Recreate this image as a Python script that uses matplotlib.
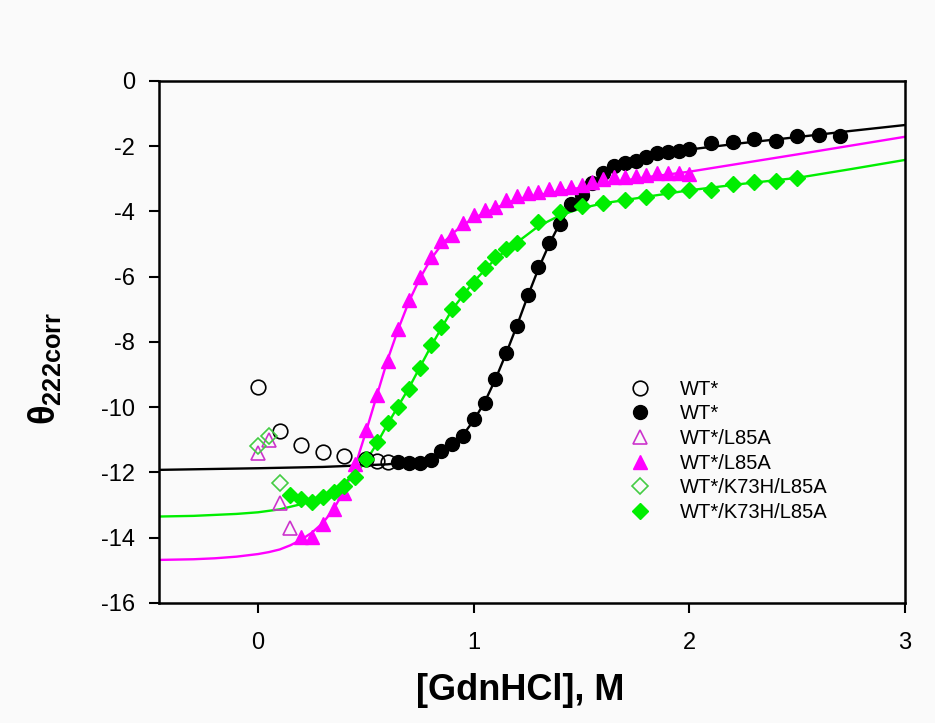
import matplotlib.pyplot as plt

plt.rcParams['font.family'] = ['Liberation Sans', 'DejaVu Sans']
plt.rcParams['axes.unicode_minus'] = False
plt.rcParams['mathtext.fontset'] = 'custom'
plt.rcParams['mathtext.rm'] = 'Liberation Sans'
plt.rcParams['mathtext.bf'] = 'Liberation Sans:bold'
plt.rcParams['mathtext.it'] = 'Liberation Sans:italic'

# WT* - open points (low denaturant)
wt_open_x = [0.0, 0.1, 0.2, 0.3, 0.4, 0.5, 0.55, 0.6]
wt_open_y = [-9.37, -10.73, -11.15, -11.36, -11.49, -11.6, -11.65, -11.68]

# WT* - filled points
wt_x = [0.65, 0.70, 0.75, 0.80, 0.85, 0.90, 0.95, 1.00, 1.05, 1.10, 1.15, 1.20,
        1.25, 1.30, 1.35, 1.40, 1.45, 1.50, 1.55, 1.60, 1.65, 1.70, 1.75, 1.80,
        1.85, 1.90, 1.95, 2.00, 2.10, 2.20, 2.30, 2.40, 2.50, 2.60, 2.70]
wt_y = [-11.67, -11.70, -11.70, -11.62, -11.35, -11.12, -10.88, -10.36, -9.87,
        -9.13, -8.34, -7.51, -6.56, -5.71, -4.97, -4.38, -3.78, -3.50, -3.12,
        -2.81, -2.60, -2.50, -2.44, -2.32, -2.22, -2.17, -2.14, -2.08, -1.91,
        -1.86, -1.78, -1.84, -1.69, -1.65, -1.69]

# WT* fit curve
wt_fit_x = [-0.46, 0.0, 0.3, 0.6, 0.7, 0.8, 0.85, 0.9, 0.95, 1.0, 1.05, 1.1, 1.15,
            1.2, 1.25, 1.3, 1.35, 1.4, 1.45, 1.5, 1.55, 1.6, 1.7, 1.8, 1.9, 2.0,
            2.25, 2.5, 2.75, 3.0]
wt_fit_y = [-11.92, -11.87, -11.83, -11.75, -11.68, -11.55, -11.4, -11.15, -10.85,
            -10.4, -9.85, -9.15, -8.35, -7.5, -6.6, -5.75, -5.0, -4.35, -3.85,
            -3.45, -3.12, -2.88, -2.55, -2.35, -2.2, -2.1, -1.9, -1.72, -1.53, -1.35]

# WT*/L85A
l85a_open_x = [0.0, 0.05, 0.1, 0.15]
l85a_open_y = [-11.4, -11.0, -12.95, -13.7]

l85a_x = [0.20, 0.25, 0.30, 0.35, 0.40, 0.45, 0.50, 0.55, 0.60, 0.65, 0.70, 0.75,
          0.80, 0.85, 0.90, 0.95, 1.00, 1.05, 1.10, 1.15, 1.20, 1.25, 1.30, 1.35,
          1.40, 1.45, 1.50, 1.55, 1.60, 1.65, 1.70, 1.75, 1.80, 1.85, 1.90, 1.95, 2.00]
l85a_y = [-13.98, -13.97, -13.58, -13.13, -12.64, -11.75, -10.7, -9.62, -8.58,
          -7.61, -6.71, -6.02, -5.38, -4.92, -4.72, -4.36, -4.11, -3.95, -3.85,
          -3.65, -3.52, -3.44, -3.39, -3.32, -3.29, -3.24, -3.18, -3.10, -3.0,
          -2.93, -2.93, -2.91, -2.88, -2.83, -2.81, -2.81, -2.86]

l85a_fit_x = [-0.46, -0.3, -0.2, -0.1, 0.0, 0.05, 0.1, 0.15, 0.2, 0.25, 0.3, 0.35,
              0.4, 0.45, 0.5, 0.55, 0.6, 0.65, 0.7, 0.75, 0.8, 0.85, 0.9, 0.95,
              1.0, 1.1, 1.2, 1.4, 1.6, 1.8, 2.0, 2.5, 3.0]
l85a_fit_y = [-14.68, -14.66, -14.63, -14.58, -14.5, -14.44, -14.36, -14.23, -14.06,
              -13.84, -13.55, -13.12, -12.55, -11.8, -10.75, -9.65, -8.55, -7.6,
              -6.75, -6.05, -5.47, -5.02, -4.68, -4.42, -4.2, -3.9, -3.62, -3.38,
              -3.15, -2.95, -2.78, -2.25, -1.71]

# WT*/K73H/L85A
k73h_open_x = [0.0, 0.05, 0.1]
k73h_open_y = [-11.19, -10.88, -12.31]

k73h_x = [0.15, 0.20, 0.25, 0.30, 0.35, 0.40, 0.45, 0.50, 0.55, 0.60, 0.65, 0.70,
          0.75, 0.80, 0.85, 0.90, 0.95, 1.00, 1.05, 1.10, 1.15, 1.20, 1.3, 1.4,
          1.5, 1.6, 1.7, 1.8, 1.9, 2.0, 2.1, 2.2, 2.3, 2.4, 2.5]
k73h_y = [-12.69, -12.82, -12.89, -12.74, -12.59, -12.41, -12.13, -11.59, -11.08,
          -10.49, -9.98, -9.45, -8.81, -8.09, -7.53, -6.99, -6.53, -6.2, -5.74,
          -5.40, -5.16, -4.97, -4.33, -4.02, -3.83, -3.73, -3.65, -3.55, -3.37,
          -3.34, -3.34, -3.16, -3.09, -3.06, -2.98]

k73h_fit_x = [-0.46, -0.3, -0.2, -0.1, 0.0, 0.1, 0.2, 0.3, 0.4, 0.45, 0.5, 0.55,
              0.6, 0.7, 0.8, 0.9, 1.0, 1.1, 1.2, 1.3, 1.4, 1.5, 1.6, 1.8, 2.0,
              2.25, 2.5, 2.75, 3.0]
k73h_fit_y = [-13.35, -13.33, -13.3, -13.27, -13.22, -13.13, -12.97, -12.72, -12.32,
              -12.03, -11.65, -11.12, -10.52, -9.4, -8.15, -7.0, -6.15, -5.45,
              -4.95, -4.45, -4.12, -3.9, -3.75, -3.55, -3.35, -3.15, -2.97, -2.7,
              -2.42]

bg = '#fafafa'
black = '#000000'
magenta = '#ff00ff'
green = '#00ee00'

fig = plt.figure(figsize=(9.35, 7.23), dpi=100, facecolor=bg)
ax = fig.add_axes([0.170, 0.166, 0.798, 0.722], facecolor=bg)

# fitted curves
ax.plot(wt_fit_x, wt_fit_y, color=black, lw=1.7, zorder=2)
ax.plot(l85a_fit_x, l85a_fit_y, color=magenta, lw=1.7, zorder=2)
ax.plot(k73h_fit_x, k73h_fit_y, color=green, lw=1.7, zorder=2)

# data points
ax.plot(wt_open_x, wt_open_y, 'o', ms=10.5, mfc='none', mec=black, mew=1.2,
        label='WT*', zorder=3)
ax.plot(wt_x, wt_y, 'o', ms=10, color=black, label='WT*', zorder=3)
ax.plot(l85a_open_x, l85a_open_y, '^', ms=9.5, mfc='none', mec='#cc33cc', mew=1.2,
        label='WT*/L85A', zorder=3)
ax.plot(l85a_x, l85a_y, '^', ms=10, color=magenta, label='WT*/L85A', zorder=3)
ax.plot(k73h_open_x, k73h_open_y, 'D', ms=8.5, mfc='none', mec='#44cc44', mew=1.2,
        label='WT*/K73H/L85A', zorder=3)
ax.plot(k73h_x, k73h_y, 'D', ms=8.5, color=green, label='WT*/K73H/L85A', zorder=3)

ax.set_xlim(-0.46, 3.0)
ax.set_ylim(-16, 0)
ax.set_xticks([0, 1, 2, 3])
ax.set_yticks(range(-16, 1, 2))

for s in ax.spines.values():
    s.set_linewidth(1.8)
ax.tick_params(axis='both', direction='out', length=7, width=1.5, labelsize=17)
ax.tick_params(axis='x', pad=14)
ax.tick_params(axis='y', pad=10)

fig.text(0.556, 0.045, '[GdnHCl], M', fontsize=26, fontweight='bold',
         ha='center', va='center')
fig.text(0.048, 0.49, r'$\mathbf{\theta}_{\mathbf{222corr}}$', fontsize=26,
         rotation=90, ha='center', va='center')

ax.legend(loc='upper left', bbox_to_anchor=(0.615, 0.447), frameon=False,
          fontsize=14.5, numpoints=1, handlelength=1.2, handletextpad=1.4,
          labelspacing=0.28, borderpad=0)

fig.savefig('out.png', dpi=100, facecolor=bg)
